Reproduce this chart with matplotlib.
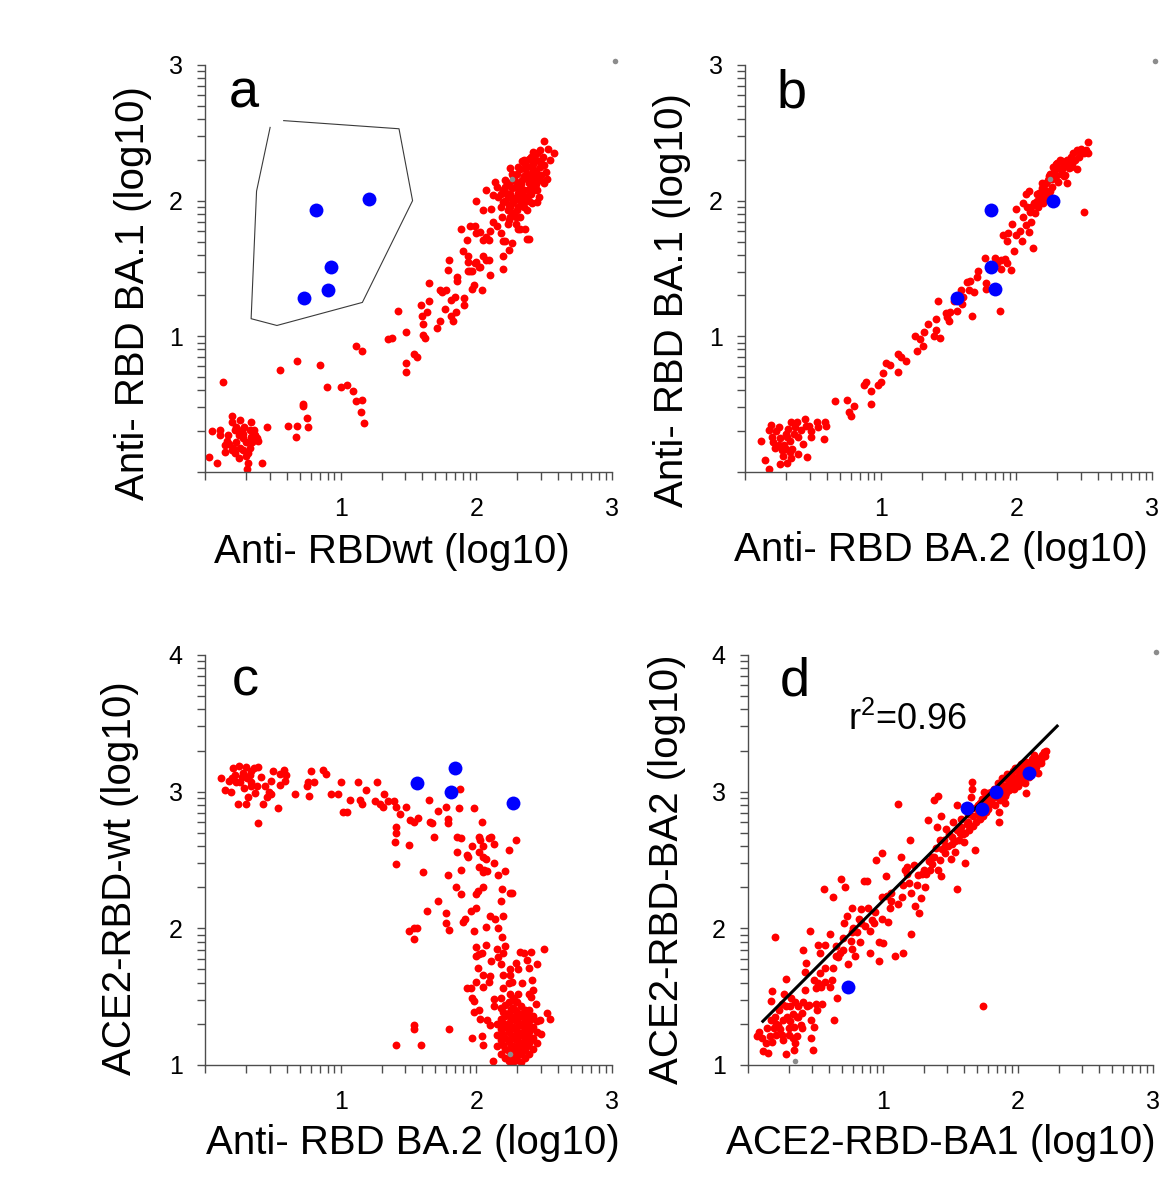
import numpy as np
import matplotlib.pyplot as plt

plt.rcParams["font.family"] = ["Liberation Sans", "DejaVu Sans"]
plt.rcParams["mathtext.fontset"] = "custom"
plt.rcParams["mathtext.rm"] = "Liberation Sans"

# ------------------------------------------------------------------
# Data (log10 values)
# ------------------------------------------------------------------
# panel a: anti-RBDwt (x) vs anti-RBD BA.1 (y)
a_red = [
    (0.03, 0.11), (0.09, 0.07), (0.05, 0.30), (0.11, 0.31), (0.11, 0.27), (0.13, 0.66),
    (0.15, 0.20), (0.15, 0.15), (0.17, 0.27), (0.18, 0.21), (0.20, 0.37), (0.20, 0.41),
    (0.21, 0.18), (0.22, 0.31), (0.22, 0.14), (0.23, 0.33), (0.25, 0.27), (0.25, 0.10),
    (0.26, 0.38), (0.26, 0.18), (0.27, 0.31), (0.28, 0.25), (0.28, 0.16), (0.29, 0.33),
    (0.30, 0.12), (0.30, 0.22), (0.31, 0.02), (0.32, 0.07), (0.33, 0.31), (0.34, 0.37),
    (0.34, 0.26), (0.35, 0.22), (0.36, 0.31), (0.37, 0.27), (0.38, 0.25), (0.39, 0.23),
    (0.42, 0.07), (0.46, 0.33), (0.32, 0.14), (0.23, 0.22), (0.16, 0.23), (0.20, 0.16),
    (0.28, 0.28), (0.33, 0.18),
    (0.55, 0.75), (0.61, 0.34), (0.67, 0.26), (0.68, 0.34), (0.68, 0.82), (0.72, 0.50),
    (0.72, 0.49), (0.75, 0.40), (0.76, 0.33), (0.85, 0.79), (0.90, 0.63), (1.00, 0.63),
    (1.05, 0.64), (1.09, 0.60), (1.11, 0.52), (1.16, 0.53), (1.15, 0.44), (1.17, 0.36),
    (1.11, 0.93), (1.16, 0.89), (1.35, 0.98), (1.38, 0.99), (1.42, 1.19), (1.48, 1.03),
    (1.48, 0.80), (1.48, 0.74), (1.54, 0.87), (1.56, 0.85), (1.59, 1.23), (1.61, 1.01),
    (1.62, 0.99), (1.60, 1.15), (1.61, 1.09), (1.64, 1.18), (1.65, 1.26), (1.65, 1.39),
    (1.71, 1.06), (1.73, 1.11), (1.73, 1.34), (1.75, 1.33), (1.77, 1.20), (1.78, 1.34),
    (1.79, 1.49), (1.80, 1.56), (1.81, 1.27), (1.81, 1.15), (1.83, 1.11), (1.84, 1.29),
    (1.85, 1.18), (1.86, 1.41), (1.86, 1.44), (1.90, 1.63), (1.91, 1.28), (1.91, 1.23),
    (1.93, 1.71), (1.94, 1.59), (1.94, 1.55), (1.94, 1.48), (1.95, 1.48), (1.97, 1.48),
    (1.97, 1.35), (1.98, 1.38), (1.99, 1.54), (2.00, 1.55), (2.02, 1.51), (2.03, 1.51),
    (2.04, 1.34), (2.05, 1.59), (2.07, 1.56), (2.09, 1.56), (2.10, 1.45), (2.20, 1.59),
    (2.20, 1.50), (1.89, 1.79), (1.95, 1.81), (1.99, 1.81), (2.00, 2.00), (2.00, 1.76),
    (2.03, 1.77), (2.05, 1.71), (2.05, 1.93), (2.07, 2.08), (2.07, 1.73), (2.09, 1.71),
    (2.10, 1.78), (2.11, 1.94), (2.12, 1.84), (2.12, 2.04), (2.14, 2.14), (2.15, 1.81),
    (2.18, 1.76), (2.20, 1.70), (2.21, 1.70), (2.24, 1.64), (2.26, 1.69), (2.31, 1.79),
    (2.32, 1.79), (2.36, 1.79), (2.37, 1.72), (2.39, 1.72), (2.45, 1.99), (2.25, 2.24),
    (2.50, 2.44), (2.53, 2.38), (2.57, 2.35), (2.54, 2.30),
    (2.15, 2.10), (2.16, 2.03), (2.18, 1.95), (2.19, 1.88), (2.20, 2.08), (2.21, 2.00),
    (2.23, 1.93), (2.24, 1.86), (2.21, 2.15), (2.24, 2.13), (2.25, 2.05), (2.26, 1.98),
    (2.27, 1.91), (2.29, 1.83), (2.26, 2.20), (2.27, 2.18), (2.29, 2.10), (2.30, 2.03),
    (2.31, 1.95), (2.32, 1.88), (2.31, 2.25), (2.32, 2.23), (2.34, 2.15), (2.35, 2.08),
    (2.36, 2.00), (2.37, 1.93), (2.35, 2.30), (2.36, 2.27), (2.37, 2.20), (2.39, 2.13),
    (2.40, 2.05), (2.41, 1.98), (2.40, 2.32), (2.41, 2.26), (2.42, 2.23), (2.43, 2.15),
    (2.45, 2.08), (2.46, 2.03), (2.42, 2.36), (2.45, 2.35), (2.46, 2.29), (2.47, 2.25),
    (2.48, 2.19), (2.50, 2.13), (2.47, 2.37), (2.49, 2.32), (2.50, 2.26), (2.51, 2.21),
    (2.52, 2.16), (2.18, 2.05), (2.20, 1.99), (2.23, 2.03), (2.25, 1.95), (2.27, 1.99),
    (2.30, 1.93), (2.32, 2.00), (2.35, 1.95), (2.37, 2.03), (2.40, 2.10), (2.42, 2.08),
    (2.45, 2.18), (2.47, 2.15), (2.32, 2.10), (2.35, 2.18), (2.37, 2.25), (2.40, 2.20),
    (2.42, 2.27), (2.25, 1.88), (2.23, 1.83), (2.29, 2.14), (2.31, 2.06), (2.34, 2.29),
    (2.39, 2.31), (2.43, 2.10), (2.21, 2.10), (2.41, 2.15), (2.36, 2.23), (2.30, 2.20),
    (2.43, 2.31), (2.28, 2.02), (2.33, 1.97), (2.38, 2.08), (2.44, 2.22), (2.26, 2.09),
    (2.22, 2.06), (2.24, 1.97), (2.28, 2.16), (2.33, 2.12), (2.38, 2.17), (2.44, 2.12),
    (2.48, 2.28), (2.39, 2.00), (2.34, 2.04), (2.29, 1.88),
]
a_blue = [(0.82, 1.93), (1.21, 2.01), (0.93, 1.51), (0.91, 1.34), (0.73, 1.28)]
a_grey = [(2.26, 2.16), (3.02, 3.03)]
# hand-drawn gate around the blue sera
gate_x = [0.48, 0.38, 0.34, 0.53, 1.16, 1.53, 1.43, 0.58]
gate_y = [2.54, 2.07, 1.13, 1.08, 1.25, 2.00, 2.53, 2.59]

# panel b: anti-RBD BA.2 (x) vs anti-RBD BA.1 (y)
b_red = [
    (0.12, 0.23), (0.15, 0.09), (0.18, 0.02), (0.19, 0.35), (0.18, 0.31), (0.21, 0.22),
    (0.22, 0.18), (0.23, 0.30), (0.25, 0.33), (0.26, 0.25), (0.26, 0.06), (0.27, 0.16),
    (0.28, 0.12), (0.29, 0.20), (0.30, 0.28), (0.31, 0.07), (0.31, 0.26), (0.32, 0.32),
    (0.33, 0.23), (0.33, 0.15), (0.34, 0.37), (0.34, 0.10), (0.35, 0.17), (0.36, 0.28),
    (0.37, 0.33), (0.38, 0.37), (0.39, 0.13), (0.39, 0.26), (0.41, 0.31), (0.43, 0.21),
    (0.44, 0.39), (0.45, 0.34), (0.46, 0.11), (0.47, 0.34), (0.49, 0.30), (0.49, 0.26),
    (0.53, 0.37), (0.54, 0.33), (0.58, 0.24), (0.59, 0.37), (0.60, 0.34), (0.20, 0.26),
    (0.30, 0.17), (0.25, 0.20),
    (0.66, 0.52), (0.75, 0.53), (0.77, 0.44), (0.78, 0.41), (0.80, 0.49), (0.88, 0.64),
    (0.89, 0.66), (0.93, 0.60), (0.93, 0.50), (0.98, 0.64), (1.00, 0.66), (1.02, 0.73),
    (1.04, 0.80), (1.07, 0.79), (1.13, 0.74), (1.13, 0.87), (1.15, 0.85), (1.19, 0.82),
    (1.25, 1.00), (1.27, 0.89), (1.29, 0.98), (1.31, 0.93), (1.32, 1.03), (1.35, 1.09),
    (1.39, 1.00), (1.41, 1.05), (1.41, 1.13), (1.42, 1.26), (1.44, 0.99), (1.48, 1.17),
    (1.49, 1.14), (1.50, 1.11), (1.51, 1.18), (1.54, 1.26), (1.56, 1.19), (1.59, 1.34),
    (1.60, 1.24), (1.61, 1.29), (1.64, 1.40), (1.65, 1.34), (1.67, 1.15), (1.66, 1.41),
    (1.69, 1.33), (1.71, 1.44), (1.72, 1.48), (1.77, 1.58), (1.78, 1.39), (1.78, 1.35),
    (1.84, 1.58), (1.86, 1.54), (1.88, 1.19), (1.89, 1.50), (1.89, 1.56), (1.92, 1.57),
    (1.93, 1.54), (1.96, 1.49), (1.90, 1.75), (1.93, 1.70), (1.94, 1.76), (1.97, 1.83),
    (1.98, 1.63), (2.00, 1.94), (2.00, 1.75), (2.03, 1.78), (2.04, 1.70), (2.05, 1.98),
    (2.05, 1.88), (2.07, 1.82), (2.07, 2.05), (2.09, 1.77), (2.09, 2.07), (2.10, 1.92),
    (2.11, 1.84), (2.12, 1.65), (2.13, 1.98), (2.14, 1.91), (2.15, 2.05), (2.16, 1.95),
    (2.18, 2.01), (2.19, 2.13), (2.20, 1.98), (2.21, 2.08), (2.23, 2.15), (2.24, 2.04),
    (2.25, 2.20), (2.26, 2.10), (2.27, 2.25), (2.29, 2.18), (2.30, 2.28), (2.31, 2.14),
    (2.32, 2.30), (2.34, 2.23), (2.35, 2.26), (2.36, 2.19), (2.37, 2.30), (2.39, 2.24),
    (2.40, 2.32), (2.41, 2.27), (2.42, 2.35), (2.43, 2.30), (2.45, 2.37), (2.46, 2.32),
    (2.47, 2.36), (2.48, 2.38), (2.50, 2.35), (2.51, 2.37), (2.53, 2.43), (2.53, 2.35),
    (2.45, 2.23), (2.50, 1.92), (2.25, 2.07), (2.20, 2.05), (2.29, 2.27), (2.31, 2.24),
    (2.24, 2.18), (2.35, 2.18), (2.37, 2.13), (2.08, 1.95), (2.11, 1.95), (2.15, 2.00),
    (2.22, 2.13), (2.40, 2.25), (2.34, 2.29), (2.19, 2.09), (2.28, 2.21), (2.33, 2.20),
    (2.38, 2.27), (2.26, 2.16), (2.17, 2.06), (2.22, 2.02),
]
b_blue = [(1.81, 1.93), (2.27, 2.00), (1.81, 1.51), (1.84, 1.35), (1.56, 1.28)]
b_grey = [(2.25, 2.16), (3.02, 3.03)]

# panel c: anti-RBD BA.2 (x) vs ACE2-RBD-wt (y)
c_red = [
    (0.12, 3.10), (0.15, 3.01), (0.19, 3.00), (0.18, 3.08), (0.21, 3.17), (0.22, 3.12),
    (0.24, 2.91), (0.25, 3.19), (0.26, 3.07), (0.27, 3.11), (0.28, 3.14), (0.29, 3.03),
    (0.30, 3.18), (0.30, 2.91), (0.31, 3.10), (0.32, 2.96), (0.33, 3.12), (0.34, 3.07),
    (0.34, 3.15), (0.36, 3.17), (0.37, 2.99), (0.38, 3.04), (0.39, 2.77), (0.39, 3.18),
    (0.41, 3.11), (0.43, 2.91), (0.44, 3.04), (0.46, 2.96), (0.47, 3.00), (0.49, 2.98),
    (0.49, 3.08), (0.50, 3.15), (0.54, 2.88), (0.55, 3.13), (0.55, 3.05), (0.58, 3.16),
    (0.59, 3.08), (0.60, 3.12), (0.66, 2.98), (0.23, 3.07), (0.20, 3.10), (0.34, 3.04),
    (0.75, 3.04), (0.76, 3.07), (0.77, 2.97), (0.78, 3.15), (0.80, 3.07), (0.87, 3.16),
    (0.89, 3.13), (0.93, 2.98), (0.98, 2.98), (1.00, 3.07), (1.02, 2.85), (1.05, 2.85),
    (1.07, 2.94), (1.13, 3.07), (1.14, 2.94), (1.16, 2.91), (1.19, 3.01), (1.25, 2.93),
    (1.27, 3.07), (1.29, 2.91), (1.31, 2.89), (1.32, 2.98), (1.35, 2.93), (1.39, 2.93),
    (1.41, 2.89), (1.41, 2.74), (1.41, 2.70), (1.40, 2.63), (1.41, 2.47), (1.44, 2.84),
    (1.48, 2.89), (1.50, 2.61), (1.51, 2.79), (1.54, 2.78), (1.57, 2.81), (1.61, 2.41),
    (1.64, 2.13), (1.65, 2.94), (1.66, 2.78), (1.67, 2.77), (1.69, 2.67), (1.72, 2.86),
    (1.72, 2.20), (1.78, 2.89), (1.78, 2.11), (1.78, 2.04), (1.79, 2.39), (1.79, 2.77),
    (1.79, 2.80), (1.80, 1.99), (1.85, 2.30), (1.86, 2.67), (1.86, 2.56), (1.87, 2.88),
    (1.88, 3.02), (1.89, 2.66), (1.89, 2.43), (1.89, 2.25), (1.90, 2.05), (1.92, 2.07),
    (1.93, 2.54), (1.94, 2.52), (1.96, 2.13), (1.97, 2.60), (1.98, 2.88), (1.98, 1.98),
    (2.00, 2.25), (2.00, 2.15), (2.01, 2.27), (2.02, 2.45), (2.02, 2.67), (2.02, 2.56),
    (2.03, 2.65), (2.04, 2.78), (2.05, 2.41), (2.05, 2.30), (2.05, 2.60), (2.05, 2.52),
    (2.06, 2.43), (2.07, 2.51), (2.07, 2.01), (2.08, 2.42), (2.09, 2.66), (2.10, 2.09),
    (2.11, 2.67), (2.13, 2.62), (2.13, 2.48), (2.14, 2.07), (2.16, 2.39), (2.16, 2.00),
    (2.18, 2.20), (2.19, 2.29), (2.20, 2.09), (2.21, 2.42), (2.24, 2.57), (2.25, 2.26),
    (2.26, 2.26), (2.29, 2.65), (2.00, 1.86), (2.00, 1.80), (1.54, 2.00), (1.56, 2.00),
    (1.50, 1.98), (1.54, 1.92), (1.41, 1.15), (1.59, 1.15), (1.54, 1.29), (1.54, 1.26),
    (1.80, 1.26),
    (2.01, 1.71), (2.02, 1.81), (2.04, 1.82), (2.05, 1.66), (2.07, 1.88), (2.09, 1.61),
    (2.10, 1.65), (2.11, 1.76), (2.00, 1.61), (1.93, 1.56), (1.96, 1.56), (1.97, 1.49),
    (1.98, 1.47), (1.98, 1.39), (2.02, 1.40), (2.03, 1.34), (2.05, 1.57), (2.08, 1.33),
    (2.10, 1.29), (1.97, 1.20), (2.04, 1.21), (2.05, 1.15), (2.12, 1.03), (2.13, 1.48),
    (2.13, 1.43), (2.15, 1.85), (2.16, 1.79), (2.18, 1.74), (2.19, 1.94), (2.20, 1.66),
    (2.20, 1.82), (2.21, 1.87), (2.24, 1.60), (2.25, 1.66), (2.25, 1.70), (2.26, 1.61),
    (2.29, 1.75), (2.31, 1.70), (2.32, 1.83), (2.34, 1.60), (2.35, 1.82), (2.37, 1.77),
    (2.39, 1.71), (2.40, 1.83), (2.41, 1.62), (2.42, 1.55), (2.44, 1.45), (2.45, 1.74),
    (2.47, 1.33), (2.48, 1.23), (2.50, 1.85), (2.52, 1.38), (2.54, 1.34), (2.20, 1.56),
    (2.25, 1.52), (2.31, 1.52), (2.39, 1.52), (2.40, 1.50), (2.18, 1.49),
    # dense low cluster
    (2.15, 1.14), (2.15, 1.22), (2.15, 1.30),
    (2.18, 1.08), (2.18, 1.18), (2.18, 1.26), (2.18, 1.34), (2.18, 1.42),
    (2.21, 1.05), (2.21, 1.12), (2.21, 1.20), (2.21, 1.28), (2.21, 1.36), (2.21, 1.44),
    (2.24, 1.03), (2.24, 1.10), (2.24, 1.17), (2.24, 1.24), (2.24, 1.31), (2.24, 1.38),
    (2.24, 1.46), (2.27, 1.02), (2.27, 1.08), (2.27, 1.14), (2.27, 1.21), (2.27, 1.28),
    (2.27, 1.35), (2.27, 1.42), (2.27, 1.49), (2.30, 1.04), (2.30, 1.11), (2.30, 1.18),
    (2.30, 1.25), (2.30, 1.32), (2.30, 1.39), (2.30, 1.46), (2.33, 1.02), (2.33, 1.08),
    (2.33, 1.15), (2.33, 1.22), (2.33, 1.29), (2.33, 1.36), (2.33, 1.43), (2.36, 1.05),
    (2.36, 1.12), (2.36, 1.19), (2.36, 1.26), (2.36, 1.33), (2.36, 1.40), (2.39, 1.08),
    (2.39, 1.16), (2.39, 1.24), (2.39, 1.32), (2.39, 1.40), (2.42, 1.12), (2.42, 1.20),
    (2.42, 1.28), (2.42, 1.36), (2.45, 1.16), (2.45, 1.24), (2.45, 1.32),
    (2.195, 1.15), (2.195, 1.23), (2.195, 1.31), (2.195, 1.39),
    (2.255, 1.06), (2.255, 1.13), (2.255, 1.20), (2.255, 1.27), (2.255, 1.34), (2.255, 1.41),
    (2.285, 1.05), (2.285, 1.12), (2.285, 1.19), (2.285, 1.26), (2.285, 1.33), (2.285, 1.40),
    (2.285, 1.47), (2.315, 1.08), (2.315, 1.15), (2.315, 1.22), (2.315, 1.29), (2.315, 1.36),
    (2.345, 1.10), (2.345, 1.17), (2.345, 1.24), (2.345, 1.31), (2.345, 1.38),
    (2.375, 1.14), (2.375, 1.22), (2.375, 1.29), (2.375, 1.37),
    (2.405, 1.18), (2.405, 1.26), (2.405, 1.34),
]
c_blue = [(1.56, 3.06), (1.84, 3.17), (1.81, 3.00), (2.27, 2.92)]
c_grey = [(2.25, 1.08)]

# panel d: ACE2-RBD-BA1 (x) vs ACE2-RBD-BA2 (y)
d_red = [
    (0.07, 1.21), (0.08, 1.24), (0.10, 1.20), (0.11, 1.10), (0.14, 1.27), (0.15, 1.09),
    (0.16, 1.21), (0.17, 1.33), (0.17, 1.47), (0.18, 1.54), (0.20, 1.94), (0.19, 1.27),
    (0.20, 1.35), (0.21, 1.22), (0.22, 1.29), (0.23, 1.40), (0.24, 1.26), (0.25, 1.45),
    (0.26, 1.33), (0.26, 1.18), (0.27, 1.52), (0.28, 1.08), (0.28, 1.63), (0.29, 1.35),
    (0.30, 1.27), (0.30, 1.22), (0.31, 1.43), (0.31, 1.32), (0.32, 1.49), (0.33, 1.20),
    (0.33, 1.37), (0.34, 1.28), (0.35, 1.16), (0.35, 1.46), (0.36, 1.35), (0.36, 1.21),
    (0.37, 1.43), (0.39, 1.29), (0.40, 1.38), (0.41, 1.46), (0.41, 1.84), (0.42, 1.55),
    (0.42, 1.68), (0.43, 1.75), (0.45, 1.44), (0.46, 1.98), (0.47, 1.33), (0.47, 1.20),
    (0.48, 1.11), (0.49, 1.62), (0.49, 1.28), (0.50, 1.56), (0.51, 1.40), (0.52, 1.88),
    (0.52, 1.60), (0.53, 1.82), (0.54, 1.57), (0.55, 1.45), (0.56, 2.29), (0.57, 1.88),
    (0.57, 1.61), (0.61, 1.57), (0.61, 1.96), (0.62, 1.62), (0.63, 1.71), (0.63, 2.23),
    (0.64, 1.33), (0.65, 1.80), (0.66, 1.49), (0.67, 1.79), (0.68, 1.82), (0.69, 2.36),
    (0.70, 1.93), (0.71, 2.04), (0.72, 2.30), (0.73, 2.09), (0.74, 1.74), (0.76, 1.91),
    (0.77, 2.15), (0.77, 1.85), (0.78, 2.00), (0.79, 1.80), (0.81, 1.97), (0.82, 2.07),
    (0.83, 1.90), (0.84, 2.14), (0.86, 2.35), (0.87, 2.02), (0.88, 2.35), (0.89, 2.15),
    (0.90, 1.98), (0.90, 1.82), (0.92, 2.06), (0.94, 2.12), (0.95, 2.50), (0.97, 1.90),
    (0.97, 1.76), (0.99, 2.07), (0.99, 2.55), (1.00, 1.89), (1.02, 2.38), (1.03, 2.24),
    (1.04, 2.05), (1.05, 2.15), (1.06, 2.26), (1.09, 1.80), (1.11, 2.91), (1.11, 2.18),
    (1.13, 2.52), (1.14, 2.23), (1.15, 1.82), (1.15, 2.32), (1.16, 2.43), (1.18, 2.45),
    (1.19, 2.33), (1.20, 2.65), (1.21, 1.96), (1.21, 2.26), (1.23, 2.46), (1.24, 2.16),
    (1.25, 2.32), (1.26, 2.39), (1.27, 2.11), (1.28, 2.22), (1.30, 2.43), (1.31, 2.30),
    (1.32, 2.40), (1.33, 2.79), (1.34, 2.49), (1.35, 2.43), (1.36, 2.52), (1.38, 2.94),
    (1.39, 2.59), (1.40, 2.74), (1.41, 2.43), (1.41, 2.97), (1.42, 2.50), (1.43, 2.38),
    (1.43, 2.82), (1.45, 2.65), (1.46, 2.55), (1.47, 2.73), (1.48, 2.60), (1.50, 2.51),
    (1.51, 2.67), (1.52, 2.78), (1.53, 2.56), (1.55, 2.90), (1.55, 2.29), (1.56, 2.65),
    (1.57, 2.70), (1.58, 2.80), (1.60, 2.63), (1.61, 2.48), (1.62, 2.76), (1.63, 2.84),
    (1.64, 2.72), (1.65, 2.96), (1.66, 3.07), (1.66, 3.02), (1.67, 2.82), (1.68, 2.57),
    (1.69, 2.78), (1.70, 2.90), (1.72, 2.80), (1.73, 2.95), (1.74, 1.43), (1.75, 3.00),
    (1.76, 2.85), (1.77, 2.93), (1.78, 2.99), (1.80, 2.94), (1.82, 3.02), (1.83, 2.90),
    (1.84, 2.97), (1.85, 3.06), (1.86, 2.85), (1.86, 2.78), (1.87, 3.00), (1.88, 3.10),
    (1.90, 2.97), (1.91, 3.04), (1.92, 3.09), (1.93, 3.01), (1.95, 3.13), (1.96, 3.06),
    (1.97, 3.10), (1.98, 3.17), (2.00, 3.04), (2.01, 3.12), (2.02, 3.20), (2.03, 3.09),
    (2.05, 3.15), (2.06, 2.99), (2.06, 3.22), (2.08, 3.11), (2.09, 3.17), (2.10, 3.24),
    (2.11, 3.15), (2.12, 3.27), (2.14, 3.20), (2.15, 3.14), (2.16, 3.25), (2.17, 3.23),
    (2.19, 3.29), (1.88, 3.05), (1.92, 3.13), (1.94, 3.06), (1.96, 3.15), (1.99, 3.09),
    (2.01, 3.16), (2.04, 3.21), (2.05, 3.06), (2.08, 3.16), (2.11, 3.22), (1.78, 2.87),
    (1.80, 3.00), (1.73, 2.87), (1.64, 2.84), (1.61, 2.70), (1.51, 2.62), (1.42, 2.65),
    (1.29, 2.40), (1.18, 2.40), (1.06, 2.20), (0.99, 2.23), (0.93, 2.04), (0.84, 2.04),
    (0.77, 1.97), (0.70, 1.84), (0.65, 1.87), (0.57, 1.71), (0.53, 1.67), (0.50, 1.45),
    (0.44, 1.43), (0.37, 1.35), (0.28, 1.43), (0.21, 1.30), (0.25, 1.22), (0.13, 1.16),
    (0.18, 1.17), (0.34, 1.11), (0.40, 1.27), (2.13, 3.18), (2.07, 3.19), (1.97, 3.02),
    (2.02, 3.07), (1.90, 2.92), (1.83, 2.96), (1.70, 2.84), (1.58, 2.74),
    (1.72, 2.92), (1.76, 2.95), (1.79, 2.91), (1.81, 2.97), (1.85, 2.99), (1.87, 2.94),
    (1.89, 3.02), (1.91, 2.99), (1.94, 3.03), (1.95, 3.08), (1.98, 3.05), (2.00, 3.11),
    (2.03, 3.13), (2.04, 3.17), (2.07, 3.14), (2.09, 3.21), (2.12, 3.19), (2.14, 3.24),
    (2.17, 3.21), (2.18, 3.27), (2.20, 3.26), (2.21, 3.30), (1.68, 2.88), (1.74, 2.82),
    (1.67, 2.75), (1.63, 2.78), (1.59, 2.69), (1.55, 2.72), (1.53, 2.64), (1.49, 2.69),
    (1.46, 2.60), (1.44, 2.58), (1.38, 2.52), (1.36, 2.47),
]
d_blue = [(0.74, 1.57), (1.62, 2.88), (1.73, 2.87), (1.84, 3.00), (2.08, 3.14)]
d_grey = [(0.35, 1.03), (3.02, 4.02)]
# fitted line as drawn in the figure (r2 = 0.96)
fit_x = [0.11, 2.29]
fit_y = [1.32, 3.48]

# ------------------------------------------------------------------
W, H = 1160, 1181
RED, BLUE, GREY = "#ff0000", "#0000ff", "#8c8c8c"
AXC = "#4d4d4d"


def fx(px):
    return px / W


def fy(py):
    return 1 - py / H


def style_axes(ax, y0, y1):
    ax.set_xlim(0, 3)
    ax.set_ylim(y0, y1)
    for s in ["top", "right"]:
        ax.spines[s].set_visible(False)
    for s in ["left", "bottom"]:
        ax.spines[s].set_color(AXC)
        ax.spines[s].set_linewidth(1.0)
    # log-style minor ticks inside each decade
    xminor = [d + np.log10(k) for d in range(0, 3) for k in range(2, 10)]
    yminor = [d + np.log10(k) for d in range(y0, y1) for k in range(2, 10)]
    ax.set_xticks([0, 1, 2, 3])
    ax.set_xticklabels(["", "1", "2", "3"])
    ax.set_xticks(xminor, minor=True)
    yt = list(range(y0, y1 + 1))
    ax.set_yticks(yt)
    ax.set_yticklabels(["" if v == 0 else str(v) for v in yt])
    ax.set_yticks(yminor, minor=True)
    ax.tick_params(which="both", direction="out", length=6, width=1, color=AXC)
    ax.tick_params(axis="x", pad=12, labelsize=18)
    ax.tick_params(axis="y", pad=10, labelsize=18)


def scatter_panel(ax, red, blue, grey):
    red = np.array(red)
    blue = np.array(blue)
    grey = np.array(grey)
    ax.scatter(red[:, 0], red[:, 1], s=32, color=RED, linewidths=0, zorder=2)
    ax.scatter(blue[:, 0], blue[:, 1], s=100, color=BLUE, linewidths=0, zorder=4)
    ax.scatter(grey[:, 0], grey[:, 1], s=16, color=GREY, linewidths=0, zorder=5,
               clip_on=False)


fig = plt.figure(figsize=(W / 100, H / 100), dpi=100)

ax_a = fig.add_axes([fx(205), fy(472), 407 / W, 407 / H])
ax_b = fig.add_axes([fx(745), fy(472), 407 / W, 407 / H])
ax_c = fig.add_axes([fx(205), fy(1065), 407 / W, 410 / H])
ax_d = fig.add_axes([fx(748), fy(1065), 405 / W, 410 / H])

style_axes(ax_a, 0, 3)
style_axes(ax_b, 0, 3)
style_axes(ax_c, 1, 4)
style_axes(ax_d, 1, 4)

scatter_panel(ax_a, a_red, a_blue, a_grey)
ax_a.plot(gate_x, gate_y, color="#3a3a3a", lw=0.8, zorder=3)

scatter_panel(ax_b, b_red, b_blue, b_grey)
scatter_panel(ax_c, c_red, c_blue, c_grey)

scatter_panel(ax_d, d_red, d_blue, d_grey)
ax_d.plot(fit_x, fit_y, color="black", lw=2.2, zorder=3)

# axis titles
lab = dict(fontsize=29, ha="center", va="center")
fig.text(fx(392), fy(552), "Anti- RBDwt (log10)", **lab)
fig.text(fx(133), fy(293), "Anti- RBD BA.1 (log10)", rotation=90, **lab)
fig.text(fx(941), fy(550), "Anti- RBD BA.2 (log10)", **lab)
fig.text(fx(672), fy(300), "Anti- RBD BA.1 (log10)", rotation=90, **lab)
fig.text(fx(413), fy(1143), "Anti- RBD BA.2 (log10)", **lab)
fig.text(fx(120), fy(878), "ACE2-RBD-wt (log10)", rotation=90, **lab)
fig.text(fx(1156), fy(1143), "ACE2-RBD-BA1 (log10)", fontsize=29, ha="right",
         va="center")
fig.text(fx(667), fy(869), "ACE2-RBD-BA2 (log10)", rotation=90, **lab)

# panel letters
let = dict(fontsize=39, ha="left", va="baseline")
fig.text(fx(229), fy(107), "a", **let)
fig.text(fx(777), fy(107), "b", **let)
fig.text(fx(232), fy(695), "c", **let)
fig.text(fx(780), fy(695), "d", **let)

fig.text(fx(848), fy(730), "r$^2$=0.96", fontsize=26, ha="left", va="baseline")

fig.savefig("out.png", dpi=100)
